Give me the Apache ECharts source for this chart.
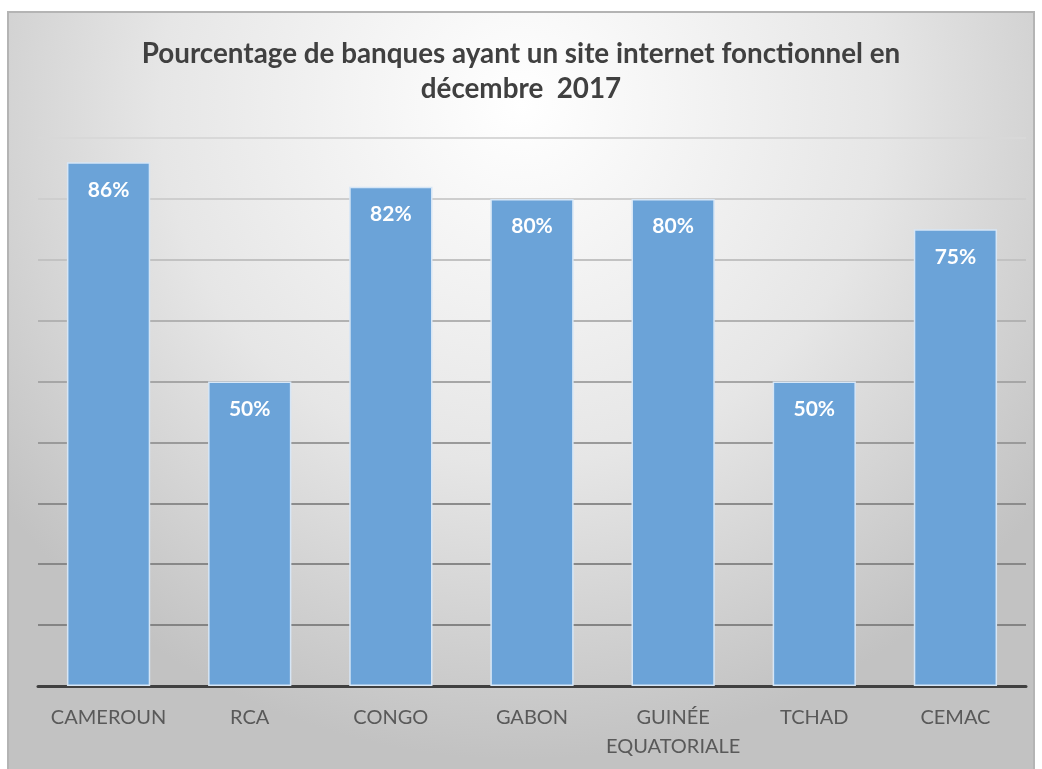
<!DOCTYPE html>
<html>
<head>
<meta charset="utf-8">
<script src="https://cdn.jsdelivr.net/npm/echarts@6/dist/echarts.min.js"></script>
<style>
html,body{margin:0;padding:0;background:#ffffff;}
#chart{width:1042px;height:769px;}
</style>
</head>
<body>
<div id="chart"></div>
<script>
const titleText = "Pourcentage de banques ayant un site internet fonctionnel en\ndécembre  2017";
const categories = ["CAMEROUN", "RCA", "CONGO", "GABON", "GUINÉE EQUATORIALE", "TCHAD", "CEMAC"];
const values = [86, 50, 82, 80, 80, 50, 75];
const yTicks = [0, 10, 20, 30, 40, 50, 60, 70, 80, 90];

const chart = echarts.init(document.getElementById('chart'));
const option = {
  animation: false,
  graphic: [{
    type: 'rect',
    z: -10,
    silent: true,
    shape: {x: 8, y: 12, width: 1026, height: 770},
    style: {
      fill: new echarts.graphic.RadialGradient(0.5, 0.12, 0.85, [
        {offset: 0, color: '#ffffff'},
        {offset: 0.55, color: '#e6e6e6'},
        {offset: 1, color: '#c2c2c2'}
      ]),
      stroke: '#b4b4b4',
      lineWidth: 2
    }
  }],
  title: {
    text: titleText,
    left: 'center',
    top: 32,
    textStyle: {
      fontFamily: 'Lato, "Open Sans", sans-serif',
      fontWeight: 'bold',
      fontSize: 27.8,
      lineHeight: 35,
      color: '#404040'
    }
  },
  grid: {left: 38, right: 16, top: 138, bottom: 83, containLabel: false},
  xAxis: {
    type: 'category',
    data: categories,
    axisLine: {show: true, lineStyle: {color: '#404040', width: 3}},
    axisTick: {show: false},
    axisLabel: {
      interval: 0,
      margin: 17,
      fontFamily: 'Lato, "Open Sans", sans-serif',
      fontSize: 20,
      lineHeight: 29,
      color: '#595959',
      formatter: function (v) { return v.replace(' ', '\n'); }
    }
  },
  yAxis: {
    type: 'value',
    min: yTicks[0],
    max: yTicks[yTicks.length - 1],
    interval: 10,
    axisLine: {show: false},
    axisTick: {show: false},
    axisLabel: {show: false},
    splitLine: {
      show: true,
      lineStyle: {
        width: 2,
        color: ['#7a7a7a', '#848484', '#888888', '#8c8c8c', '#9a9a9a', '#a6a6a6', '#b2b2b2', '#c2c2c2', '#cecece', '#d8d8d8']
      }
    }
  },
  series: [{
    type: 'bar',
    data: values,
    barCategoryGap: '41%',
    itemStyle: {
      color: '#6ba3d8',
      borderColor: '#d6e6f6',
      borderWidth: 1.5
    },
    label: {
      show: true,
      position: 'insideTop',
      distance: 17,
      formatter: '{c}%',
      fontFamily: 'Lato, "Open Sans", sans-serif',
      fontWeight: 'bold',
      fontSize: 21,
      color: '#ffffff'
    }
  }]
};
chart.setOption(option);
</script>
</body>
</html>
